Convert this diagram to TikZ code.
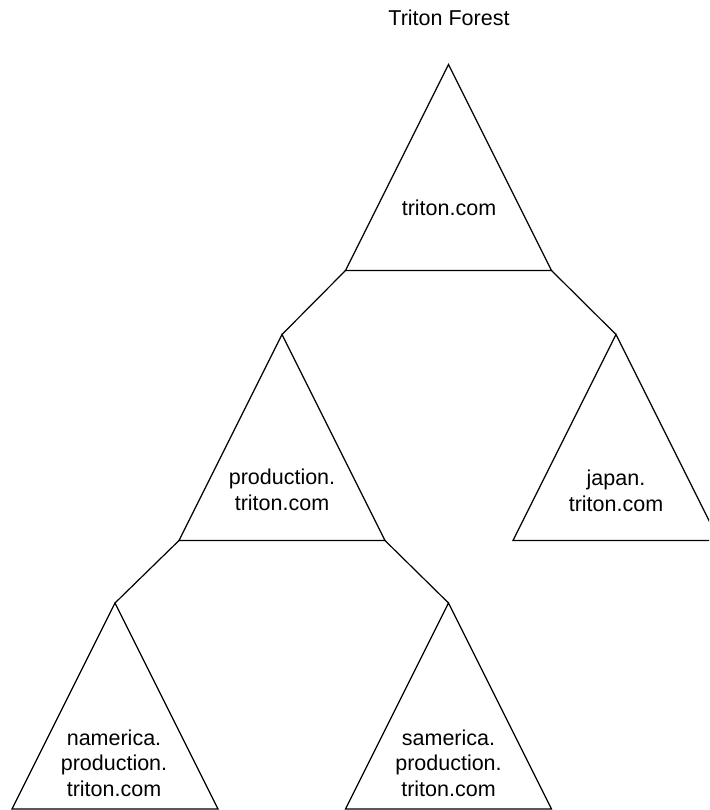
\documentclass[tikz,border=0pt]{standalone}
\usepackage{fontspec}
\setmainfont{Liberation Sans}
\usetikzlibrary{calc}
% A domain: triangle with apex #2, half-width 103, height 206
\newcommand\domaintri[2]{%
  \coordinate (#1-a) at (#2);
  \coordinate (#1-l) at ($(#1-a)+(-103,206)$);
  \coordinate (#1-r) at ($(#1-a)+(103,206)$);
  \draw[domainline] (#1-a) -- (#1-l) -- (#1-r) -- cycle;
}
\begin{document}
\begin{tikzpicture}[x=1pt,y=-1pt,
    domainline/.style={line width=1.2pt, line join=miter},
    treelink/.style={line width=1.2pt},
    domainlabel/.style={anchor=base, inner sep=0pt, align=center,
      font=\fontsize{21.5}{25.5}\selectfont}]
  \useasboundingbox (0,0) rectangle (709,810);
  \clip (0,0) rectangle (709,810);

  % forest title
  \node[domainlabel] (title) at (449,26) {Triton Forest};

  % domain triangles
  \domaintri{root}{448.5,64.5}
  \domaintri{prod}{282,334.5}
  \domaintri{japan}{616,334.5}
  \domaintri{nam}{115,603}
  \domaintri{sam}{448.5,603}

  % domain names (anchored on the baseline of the last line)
  \node[domainlabel] (rootname) at (449,215) {triton.com};
  \node[domainlabel] (prodname) at (282,510) {production.\\triton.com};
  \node[domainlabel] (japanname) at (616,511) {japan.\\triton.com};
  \node[domainlabel] (namname) at (114,796) {namerica.\\production.\\triton.com};
  \node[domainlabel] (samname) at (448.5,796) {samerica.\\production.\\triton.com};

  % parent-child links
  \draw[treelink] (root-l) -- (prod-a);
  \draw[treelink] (root-r) -- (japan-a);
  \draw[treelink] (prod-l) -- (nam-a);
  \draw[treelink] (prod-r) -- (sam-a);
\end{tikzpicture}
\end{document}
